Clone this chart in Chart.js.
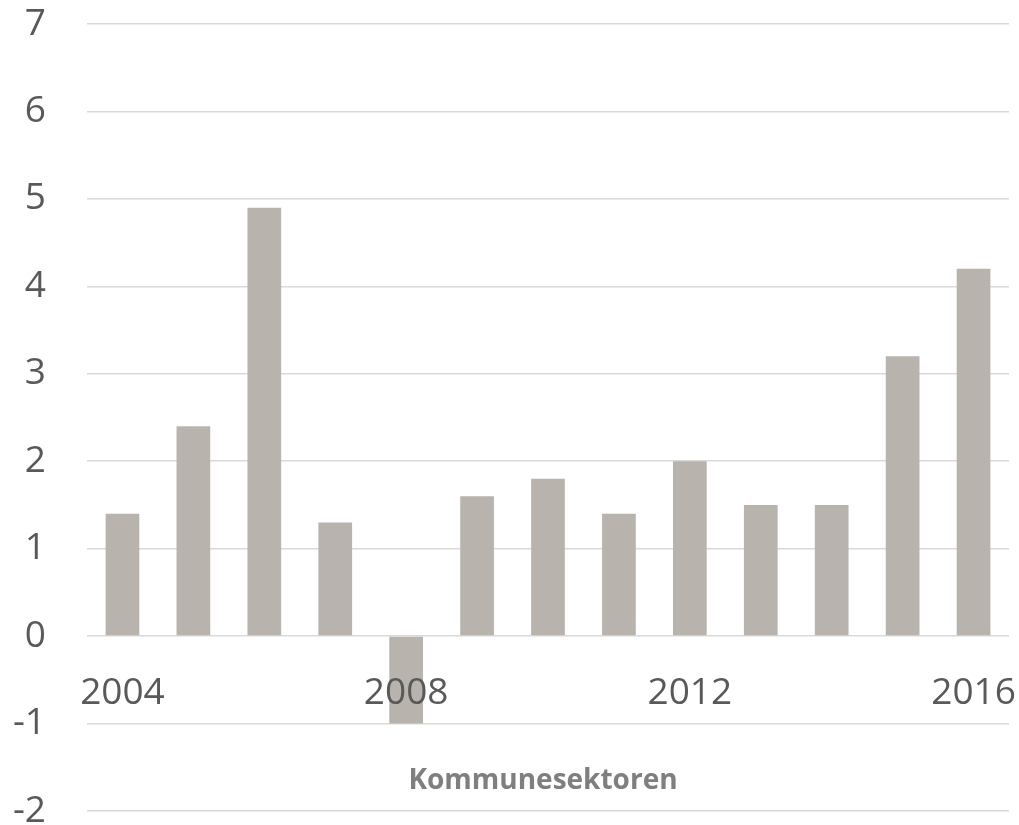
<!DOCTYPE html>
<html>
<head>
<meta charset="utf-8">
<title>Kommunesektoren</title>
<script src="https://cdn.jsdelivr.net/npm/chart.js"></script>
<style>
  html, body { margin: 0; padding: 0; background: #fff; }
  #wrap { width: 1019px; height: 825px; }
</style>
</head>
<body>
<div id="wrap"><canvas id="chart" width="1019" height="825"></canvas></div>
<script>
// data
const years = ['2004', '2005', '2006', '2007', '2008', '2009', '2010', '2011', '2012', '2013', '2014', '2015', '2016'];
const values = [1.4, 2.4, 4.9, 1.3, -1.0, 1.6, 1.8, 1.4, 2.0, 1.5, 1.5, 3.2, 4.2];
const yTicks = [-2, -1, 0, 1, 2, 3, 4, 5, 6, 7];
const sectorLabel = 'Kommunesektoren';

// label under the zero line, between -1 and -2
const sectorTitle = {
  id: 'sectorTitle',
  afterDraw(chart) {
    const { ctx, chartArea, scales } = chart;
    const y = scales.y.getPixelForValue(-1.66);
    ctx.save();
    ctx.font = 'bold 28px "Open Sans"';
    ctx.fillStyle = '#7f7f7f';
    ctx.textAlign = 'center';
    ctx.textBaseline = 'middle';
    ctx.fillText(sectorLabel, (chartArea.left + chartArea.right) / 2 - 5, y);
    ctx.restore();
  }
};

new Chart(document.getElementById('chart').getContext('2d'), {
  type: 'bar',
  data: {
    labels: years,
    datasets: [{
      data: values,
      backgroundColor: '#b8b3ac',
      borderWidth: 0,
      barPercentage: 0.475,
      categoryPercentage: 1
    }]
  },
  options: {
    responsive: false,
    animation: false,
    layout: { padding: { top: 24, right: 10, bottom: 14, left: 0 } },
    plugins: { legend: { display: false }, tooltip: { enabled: false } },
    scales: {
      x: {
        position: { y: 0 },
        afterFit: (axis) => {
          axis.height = 0;
          axis.paddingLeft = 0; axis.paddingRight = 0;
          axis.paddingTop = 0; axis.paddingBottom = 0;
        },
        grid: { display: false },
        border: { display: false },
        ticks: {
          z: 1, // year labels sit on top of the 2008 bar
          autoSkip: false,
          maxRotation: 0,
          padding: 27,
          color: '#595959',
          font: { family: 'Open Sans', size: 37 },
          callback: (v, i) => (i % 4 === 0 ? years[i] : '')
        }
      },
      y: {
        min: -2,
        max: 7,
        afterBuildTicks: (axis) => { axis.ticks = yTicks.map(v => ({ value: v })); },
        afterFit: (axis) => {
          axis.width = 87;
          axis.paddingTop = 0; axis.paddingBottom = 0;
        },
        grid: { color: '#d9d9d9', lineWidth: 1.5, drawTicks: false },
        border: { display: false },
        ticks: {
          padding: 41,
          color: '#595959',
          font: { family: 'Open Sans', size: 37 }
        }
      }
    }
  },
  plugins: [sectorTitle]
});
</script>
</body>
</html>
